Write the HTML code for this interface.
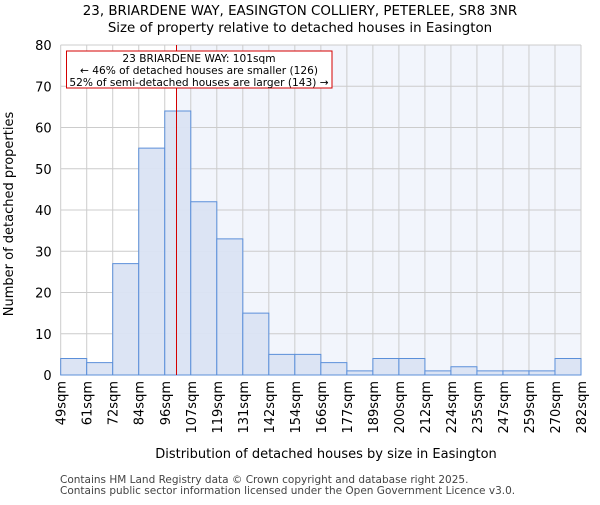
<!DOCTYPE html>
<html><head><style>body{margin:0;background:#fff}svg{font-family:"DejaVu Sans","Liberation Sans",sans-serif}</style></head><body>
<svg width="600" height="500" xmlns="http://www.w3.org/2000/svg">
<rect x="176.5" y="45" width="404.5" height="330" fill="#f2f5fc"/>
<g stroke="#cccccc" stroke-width="1" id="grid"></g>
<g id="bars"></g>
<line x1="176.5" y1="45" x2="176.5" y2="375" stroke="#d40000" stroke-width="1"/>
<rect x="66.5" y="51" width="265.5" height="37" fill="#fff" stroke="#d40000" stroke-width="1"/>
<text x="199" y="62" font-size="10.6" text-anchor="middle">23 BRIARDENE WAY: 101sqm</text>
<text x="199" y="74" font-size="10.6" text-anchor="middle">← 46% of detached houses are smaller (126)</text>
<text x="199" y="86" font-size="10.6" text-anchor="middle">52% of semi-detached houses are larger (143) →</text>
<text x="300" y="15" font-size="13.4" text-anchor="middle">23, BRIARDENE WAY, EASINGTON COLLIERY, PETERLEE, SR8 3NR</text>
<text x="300" y="32" font-size="13.4" text-anchor="middle">Size of property relative to detached houses in Easington</text>
<text x="326" y="458" font-size="13" text-anchor="middle">Distribution of detached houses by size in Easington</text>
<text transform="translate(13,214) rotate(-90)" font-size="13" text-anchor="middle">Number of detached properties</text>
<text x="60" y="483" font-size="10.5" fill="#444">Contains HM Land Registry data © Crown copyright and database right 2025.</text>
<text x="60" y="494" font-size="10.5" fill="#444">Contains public sector information licensed under the Open Government Licence v3.0.</text>
<g id="lab"></g>
</svg>
<script>
const L=60.7,R=581,B=375,T=45,s=(B-T)/80,w=(R-L)/20;
const vals=[4,3,27,55,64,42,33,15,5,5,3,1,4,4,1,2,1,1,1,4];
const labs=["49sqm","61sqm","72sqm","84sqm","96sqm","107sqm","119sqm","131sqm","142sqm","154sqm","166sqm","177sqm","189sqm","200sqm","212sqm","224sqm","235sqm","247sqm","259sqm","270sqm","282sqm"];
const ns="http://www.w3.org/2000/svg";
function el(p,t,a,txt){const e=document.createElementNS(ns,t);for(const k in a)e.setAttribute(k,a[k]);if(txt!==undefined)e.textContent=txt;document.getElementById(p).appendChild(e);}
for(let i=0;i<=20;i++){const x=L+i*w;el("grid","line",{x1:x,x2:x,y1:T,y2:B});
 el("lab","text",{transform:`translate(${x+5},${B+6}) rotate(-90)`,"font-size":"13","text-anchor":"end"},labs[i]);}
for(let v=0;v<=80;v+=10){const y=B-v*s;el("grid","line",{x1:L,x2:R,y1:y,y2:y});
 el("lab","text",{x:L-9,y:y+5,"font-size":"13","text-anchor":"end"},v);}
vals.forEach((v,i)=>{el("bars","rect",{x:L+i*w,y:B-v*s,width:w,height:v*s,fill:"#dae3f3","fill-opacity":"0.95",stroke:"#5b8fd9","stroke-width":"1"});});
</script>
</body></html>
